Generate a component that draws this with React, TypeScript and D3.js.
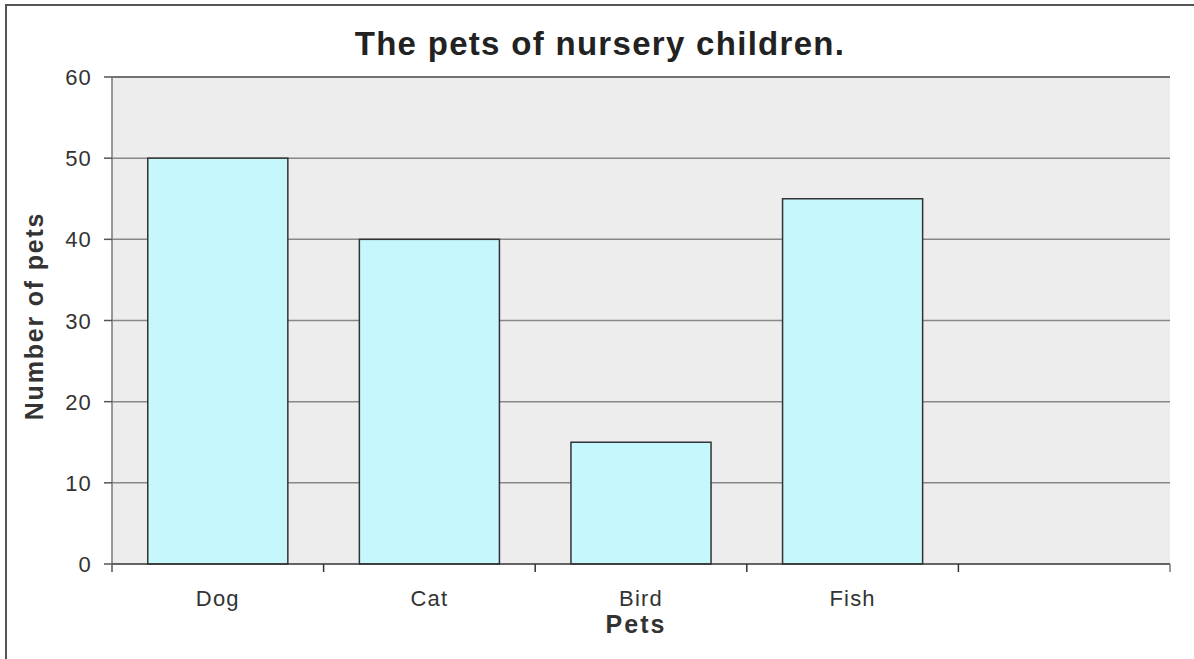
import React, { useEffect, useRef } from "react";
import * as d3 from "d3";

const categories = ["Dog", "Cat", "Bird", "Fish", ""];
const values = [50, 40, 15, 45, null];
const yTicks = [0, 10, 20, 30, 40, 50, 60];

const width = 1194;
const height = 659;
const margin = { top: 77, left: 112, bottom: 95, right: 24 };
const iwidth = width - margin.left - margin.right;
const iheight = height - margin.top - margin.bottom;
const font = "Arial, 'Liberation Sans', sans-serif";

export default function App() {
  const ref = useRef<SVGSVGElement>(null);

  useEffect(() => {
    const svg = d3.select(ref.current);
    svg.selectAll("*").remove();

    svg
      .append("rect")
      .attr("x", 6)
      .attr("y", 5)
      .attr("width", width + 20)
      .attr("height", height + 20)
      .attr("fill", "#fff")
      .attr("stroke", "#555")
      .attr("stroke-width", 2);

    const g = svg
      .append("g")
      .attr("transform", `translate(${margin.left},${margin.top})`);

    const y = d3.scaleLinear().domain([0, 60]).range([iheight, 0]);
    const x = d3.scaleBand().domain(categories).range([0, iwidth]).padding(0);
    const bw = x.bandwidth() * 0.662;

    g.append("rect")
      .attr("width", iwidth)
      .attr("height", iheight)
      .attr("fill", "#ededed");

    // gridlines
    g.selectAll(".grid")
      .data(yTicks.filter((d) => d > 0))
      .enter()
      .append("line")
      .attr("x1", 0)
      .attr("x2", iwidth)
      .attr("y1", (d) => y(d))
      .attr("y2", (d) => y(d))
      .attr("stroke", (d) => (d === 60 ? "#444" : "#888"))
      .attr("stroke-width", 1.5);

    // bars
    const data = categories
      .map((c, i) => ({ name: c, value: values[i] }))
      .filter((d) => d.value != null) as { name: string; value: number }[];

    g.selectAll(".bar")
      .data(data)
      .enter()
      .append("rect")
      .attr("x", (d) => (x(d.name) as number) + (x.bandwidth() - bw) / 2)
      .attr("y", (d) => y(d.value))
      .attr("width", bw)
      .attr("height", (d) => iheight - y(d.value))
      .attr("fill", "#c6f7fc")
      .attr("stroke", "#333")
      .attr("stroke-width", 1.5);

    // y axis
    g.append("line")
      .attr("x1", 0)
      .attr("x2", 0)
      .attr("y1", 0)
      .attr("y2", iheight + 8)
      .attr("stroke", "#777")
      .attr("stroke-width", 1.5);

    g.selectAll(".ytick")
      .data(yTicks)
      .enter()
      .append("line")
      .attr("x1", -8)
      .attr("x2", 0)
      .attr("y1", (d) => y(d))
      .attr("y2", (d) => y(d))
      .attr("stroke", "#555")
      .attr("stroke-width", 1.5);

    g.selectAll(".ylabel")
      .data(yTicks)
      .enter()
      .append("text")
      .attr("x", -20)
      .attr("y", (d) => y(d) + 8)
      .attr("text-anchor", "end")
      .attr("font-family", font)
      .attr("font-size", 22)
      .attr("letter-spacing", 1.2)
      .attr("fill", "#333")
      .text((d) => d);

    // x axis
    g.append("line")
      .attr("x1", 0)
      .attr("x2", iwidth)
      .attr("y1", iheight)
      .attr("y2", iheight)
      .attr("stroke", "#333")
      .attr("stroke-width", 1.5);

    const edges = categories.map((c) => x(c) as number).concat([iwidth]);
    g.selectAll(".xtick")
      .data(edges)
      .enter()
      .append("line")
      .attr("x1", (d) => d)
      .attr("x2", (d) => d)
      .attr("y1", iheight)
      .attr("y2", iheight + 8)
      .attr("stroke", (d, i) => (i === 0 || i === edges.length - 1 ? "#777" : "#333"))
      .attr("stroke-width", 1.5);

    g.selectAll(".xlabel")
      .data(categories)
      .enter()
      .append("text")
      .attr("x", (d) => (x(d) as number) + x.bandwidth() / 2)
      .attr("y", iheight + 42)
      .attr("text-anchor", "middle")
      .attr("font-family", font)
      .attr("font-size", 22)
      .attr("letter-spacing", 1.2)
      .attr("fill", "#333")
      .text((d) => d);

    // titles
    svg
      .append("text")
      .attr("x", 600)
      .attr("y", 55)
      .attr("text-anchor", "middle")
      .attr("font-family", font)
      .attr("font-size", 33)
      .attr("font-weight", "bold")
      .attr("letter-spacing", 1.3)
      .attr("fill", "#222")
      .text("The pets of nursery children.");

    svg
      .append("text")
      .attr("x", 636)
      .attr("y", 633)
      .attr("text-anchor", "middle")
      .attr("font-family", font)
      .attr("font-size", 25)
      .attr("font-weight", "bold")
      .attr("letter-spacing", 2)
      .attr("fill", "#333")
      .text("Pets");

    svg
      .append("text")
      .attr("transform", "translate(43,316) rotate(-90)")
      .attr("text-anchor", "middle")
      .attr("font-family", font)
      .attr("font-size", 25)
      .attr("font-weight", "bold")
      .attr("letter-spacing", 1.8)
      .attr("fill", "#333")
      .text("Number of pets");
  }, []);

  return (
    <svg
      ref={ref}
      width={width}
      height={height}
      style={{ position: "absolute", left: 0, top: 0 }}
    />
  );
}
